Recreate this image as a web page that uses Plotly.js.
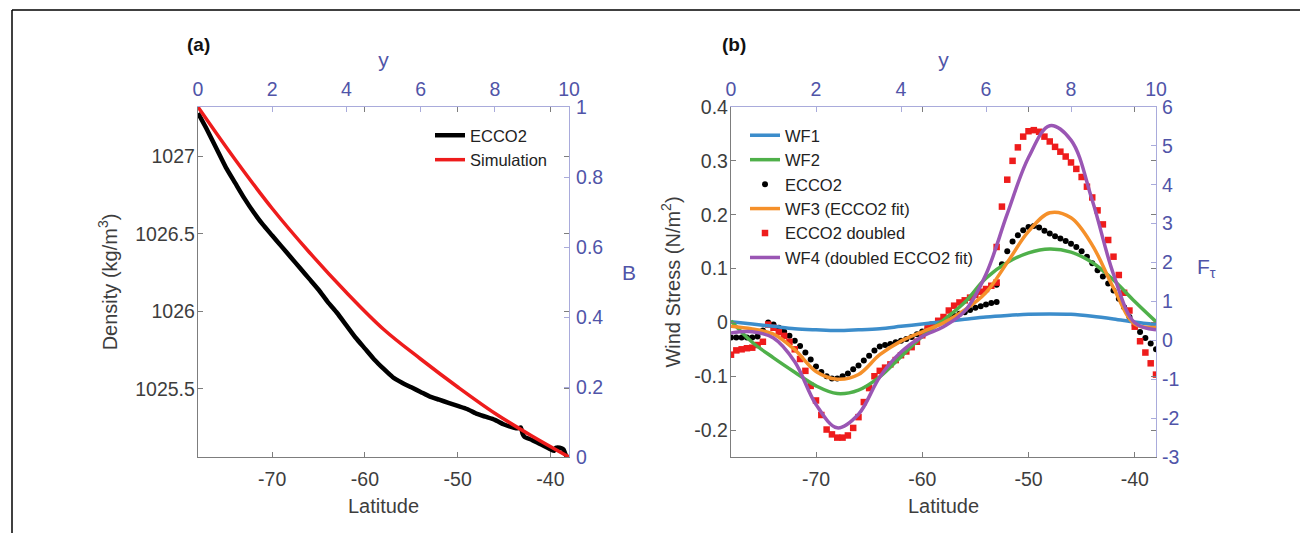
<!DOCTYPE html>
<html><head><meta charset="utf-8">
<script src="https://cdn.plot.ly/plotly-3.0.1.min.js"></script>
<style>html,body{margin:0;padding:0;background:#fff;} #chart{width:1300px;height:533px;}</style>
</head><body><div id="chart"></div>
<script>
// ---------- Panel (a) data ----------
const densLat = [-78,-77,-76,-75,-74,-73,-72,-71,-70,-69,-68,-67,-66,-65,-64,-63,-62,-61,-60,-59,-58,-57,-56,-55,-54,-53,-52,-51,-50,-49,-48,-47,-46,-45,-44,-43.5,-43.2,-43,-42.8,-42,-41,-40,-39.6,-39.4,-39,-38.6,-38.4,-38.2];
const densECCO2 = [1027.28,1027.17,1027.05,1026.93,1026.83,1026.73,1026.64,1026.56,1026.49,1026.42,1026.35,1026.28,1026.21,1026.14,1026.06,1025.99,1025.91,1025.83,1025.76,1025.69,1025.63,1025.575,1025.54,1025.51,1025.48,1025.45,1025.43,1025.41,1025.39,1025.37,1025.34,1025.32,1025.30,1025.27,1025.25,1025.245,1025.25,1025.21,1025.19,1025.17,1025.14,1025.11,1025.10,1025.12,1025.12,1025.11,1025.08,1025.06];
const simY = [0,1,2,3,4,5,6,7,8,9,10];
const simB = [1.0,0.85,0.71,0.585,0.47,0.365,0.28,0.20,0.125,0.06,0.0];

// ---------- Panel (b) data ----------
const wfY = [0,0.5,1,1.5,2,2.5,3,3.5,4,4.5,5,5.5,6,6.5,7,7.5,8,8.5,9,9.5,10];
const wf1 = [0.48,0.42,0.36,0.30,0.27,0.25,0.27,0.30,0.36,0.42,0.48,0.54,0.60,0.64,0.67,0.68,0.67,0.62,0.55,0.47,0.40];
const wf2 = [0.50,-0.05,-0.45,-0.82,-1.17,-1.37,-1.28,-0.94,-0.42,0.10,0.52,0.98,1.60,2.00,2.25,2.35,2.27,2.00,1.55,1.00,0.48];
const wf3 = [0.36,0.29,0.16,-0.24,-0.80,-1.00,-0.88,-0.37,-0.02,0.22,0.45,0.78,1.23,2.00,2.80,3.28,3.15,2.45,1.35,0.42,0.33];
const wf4 = [0.19,0.22,0.06,-0.55,-1.65,-2.25,-1.90,-0.94,-0.30,0.10,0.35,0.75,1.70,3.25,4.70,5.52,5.15,3.60,1.70,0.45,0.27];

const eccoLat = [-78,-77.5,-77,-76.5,-76,-75.5,-75,-74.5,-74,-73.5,-73,-72.5,-72,-71.5,-71,-70.5,-70,-69.5,-69,-68.5,-68,-67.5,-67,-66.5,-66,-65.5,-65,-64.5,-64,-63.5,-63,-62.5,-62,-61.5,-61,-60.5,-60,-59.5,-59,-58.5,-58,-57.5,-57,-56.5,-56,-55.5,-55,-54.5,-54,-53.5,-53,
  -53,-52.5,-52,-51.5,-51,-50.5,-50,-49.5,-49,-48.5,-48,-47.5,-47,-46.5,-46,-45.5,-45,-44.5,-44,-43.5,-43,-42.5,-42,-41.5,-41,-40.5,-40,-39.5,-39,-38.5,-38];
const eccoTau = [-0.028,-0.028,-0.028,-0.028,-0.028,-0.026,-0.015,0.000,-0.004,-0.010,-0.017,-0.025,-0.034,-0.044,-0.056,-0.069,-0.082,-0.092,-0.100,-0.104,-0.104,-0.100,-0.095,-0.087,-0.080,-0.071,-0.062,-0.052,-0.045,-0.042,-0.040,-0.037,-0.034,-0.031,-0.027,-0.022,-0.017,-0.012,-0.007,-0.002,0.002,0.007,0.012,0.016,0.019,0.023,0.027,0.030,0.033,0.036,0.038,
  0.070,0.108,0.132,0.150,0.162,0.171,0.177,0.179,0.176,0.170,0.165,0.160,0.156,0.151,0.146,0.140,0.132,0.122,0.110,0.097,0.085,0.072,0.059,0.044,0.028,0.010,-0.006,-0.018,-0.029,-0.039,-0.050];
const eccoDblTau = [-0.060,-0.052,-0.050,-0.048,-0.047,-0.042,-0.036,-0.004,-0.010,-0.018,-0.025,-0.036,-0.050,-0.068,-0.090,-0.118,-0.145,-0.172,-0.199,-0.208,-0.214,-0.214,-0.210,-0.196,-0.176,-0.148,-0.122,-0.100,-0.090,-0.084,-0.078,-0.070,-0.061,-0.054,-0.046,-0.036,-0.024,-0.011,-0.004,0.003,0.010,0.022,0.031,0.037,0.041,0.046,0.051,0.057,0.062,0.068,0.074,
  0.140,0.215,0.265,0.300,0.325,0.345,0.355,0.357,0.354,0.345,0.336,0.326,0.317,0.308,0.297,0.285,0.270,0.252,0.232,0.208,0.182,0.153,0.122,0.088,0.055,0.022,-0.008,-0.035,-0.056,-0.076,-0.097];

// ---------- tick labels ----------
const latTicks = [-70,-60,-50,-40];
const latTickText = ['-70','-60','-50','-40'];
const densTicks = [1025.5,1026,1026.5,1027];
const densTickText = ['1025.5','1026','1026.5','1027'];
const tauTicks = [-0.2,-0.1,0,0.1,0.2,0.3,0.4];
const tauTickText = ['-0.2','-0.1','0','0.1','0.2','0.3','0.4'];
const fTicks = [-3,-2,-1,0,1,2,3,4,5,6];
const fTickText = ['-3','-2','-1','0','1','2','3','4','5','6'];

const W = 1300, H = 533;
const FONT = 'Liberation Sans, Arial, Helvetica, sans-serif';
const GRAY_LINE = '#7d7d7d', GRAY_TXT = '#3d3d3d';
const BLUE_LINE = '#a9abdb', BLUE_TXT = '#5054a8';
const domA = [198/W, 569/W], domB = [731/W, 1156/W];
const domY = [1-457/H, 1-107/H];

function grayAxis(extra){
  return Object.assign({showline:true, linecolor:GRAY_LINE, linewidth:1.2, ticks:'inside', ticklen:5, tickcolor:GRAY_LINE,
    tickfont:{family:FONT,size:19.5,color:GRAY_TXT}, showgrid:false, zeroline:false, mirror:'ticks', fixedrange:true}, extra);
}
function blueAxis(extra){
  return Object.assign({showline:true, linecolor:BLUE_LINE, linewidth:1.2, ticks:'inside', ticklen:5, tickcolor:BLUE_LINE,
    tickfont:{family:FONT,size:19.5,color:BLUE_TXT}, showgrid:false, zeroline:false, fixedrange:true}, extra);
}

const traces = [
  {x:densLat, y:densECCO2, xaxis:'x', yaxis:'y', mode:'lines', name:'ECCO2', line:{color:'#000000', width:4.5, shape:'spline', smoothing:0.5}, legend:'legend'},
  {x:simY, y:simB, xaxis:'x2', yaxis:'y2', mode:'lines', name:'Simulation', line:{color:'#ee1c1c', width:3.5, shape:'spline'}, legend:'legend'},
  {x:wfY, y:wf1, xaxis:'x4', yaxis:'y4', mode:'lines', name:'WF1', line:{color:'#3c8dcb', width:3.5, shape:'spline'}, legend:'legend2'},
  {x:wfY, y:wf2, xaxis:'x4', yaxis:'y4', mode:'lines', name:'WF2', line:{color:'#4fb04a', width:3.5, shape:'spline'}, legend:'legend2'},
  {x:eccoLat, y:eccoTau, xaxis:'x3', yaxis:'y3', mode:'markers', name:'ECCO2', marker:{color:'#000000', size:6, symbol:'circle'}, legend:'legend2'},
  {x:wfY, y:wf3, xaxis:'x4', yaxis:'y4', mode:'lines', name:'WF3 (ECCO2 fit)', line:{color:'#f5902a', width:3.5, shape:'spline'}, legend:'legend2'},
  {x:eccoLat, y:eccoDblTau, xaxis:'x3', yaxis:'y3', mode:'markers', name:'ECCO2 doubled', marker:{color:'#ee1c1c', size:6.5, symbol:'square'}, legend:'legend2'},
  {x:wfY, y:wf4, xaxis:'x4', yaxis:'y4', mode:'lines', name:'WF4 (doubled ECCO2 fit)', line:{color:'#9a56b4', width:3.5, shape:'spline'}, legend:'legend2'}
];

const layout = {
  width:W, height:H, margin:{l:0,r:0,t:0,b:0}, paper_bgcolor:'#ffffff', plot_bgcolor:'rgba(0,0,0,0)',
  font:{family:FONT, color:GRAY_TXT},
  xaxis: grayAxis({domain:domA, anchor:'y', range:[-78,-38], tickvals:latTicks, ticktext:latTickText, ticklabelstandoff:4,
    title:{text:'Latitude', font:{family:FONT,size:20,color:GRAY_TXT}, standoff:10}}),
  yaxis: grayAxis({domain:domY, anchor:'x', range:[1025.06,1027.32], tickvals:densTicks, ticktext:densTickText, ticklabelstandoff:-2,
    title:{text:'Density (kg/m<sup>3</sup>)', font:{family:FONT,size:20,color:GRAY_TXT}, standoff:12}}),
  xaxis2: blueAxis({domain:domA, anchor:'y2', overlaying:'x', side:'top', range:[0,10], dtick:2, tick0:0, ticklabelstandoff:2,
    title:{text:'y', font:{family:FONT,size:21,color:BLUE_TXT}, standoff:4}}),
  yaxis2: blueAxis({domain:domY, anchor:'x2', overlaying:'y', side:'right', range:[0,1], dtick:0.2, tick0:0, ticklabelstandoff:2}),
  xaxis3: grayAxis({domain:domB, anchor:'y3', range:[-78,-38], tickvals:latTicks, ticktext:latTickText, ticklabelstandoff:4,
    title:{text:'Latitude', font:{family:FONT,size:20,color:GRAY_TXT}, standoff:10}}),
  yaxis3: grayAxis({domain:domY, anchor:'x3', range:[-0.25,0.4], tickvals:tauTicks, ticktext:tauTickText, ticklabelstandoff:-2,
    title:{text:'Wind Stress (N/m<sup>2</sup>)', font:{family:FONT,size:20,color:GRAY_TXT}, standoff:8}}),
  xaxis4: blueAxis({domain:domB, anchor:'y4', overlaying:'x3', side:'top', range:[0,10], dtick:2, tick0:0, ticklabelstandoff:2,
    title:{text:'y', font:{family:FONT,size:21,color:BLUE_TXT}, standoff:4}}),
  yaxis4: blueAxis({domain:domY, anchor:'x4', overlaying:'y3', side:'right', range:[-3,6], tickvals:fTicks, ticktext:fTickText, ticklabelstandoff:1}),
  showlegend:true,
  legend:{x:430/W, y:1-118/H, xanchor:'left', yanchor:'top', bgcolor:'rgba(0,0,0,0)', borderwidth:0,
    font:{family:FONT,size:16.5,color:'#222222'}, tracegroupgap:0},
  legend2:{x:745/W, y:1-118/H, xanchor:'left', yanchor:'top', bgcolor:'rgba(0,0,0,0)', borderwidth:0,
    font:{family:FONT,size:16.5,color:'#222222'}, tracegroupgap:0},
  annotations:[
    {text:'<b>(a)</b>', xref:'paper', yref:'paper', x:198/W, y:1-45/H, xanchor:'center', yanchor:'middle', showarrow:false, font:{family:FONT,size:19,color:'#111111'}},
    {text:'<b>(b)</b>', xref:'paper', yref:'paper', x:734/W, y:1-45/H, xanchor:'center', yanchor:'middle', showarrow:false, font:{family:FONT,size:19,color:'#111111'}},
    {text:'B', xref:'paper', yref:'paper', x:629/W, y:1-272/H, xanchor:'center', yanchor:'middle', showarrow:false, font:{family:FONT,size:21,color:BLUE_TXT}},
    {text:'F<sub>τ</sub>', xref:'paper', yref:'paper', x:1206/W, y:1-268/H, xanchor:'center', yanchor:'middle', showarrow:false, font:{family:FONT,size:21,color:BLUE_TXT}}
  ],
  shapes:[
    {type:'line', xref:'paper', yref:'paper', x0:12/W, x1:1, y0:1-10/H, y1:1-10/H, line:{color:'#000000', width:1.5}},
    {type:'line', xref:'paper', yref:'paper', x0:12/W, x1:12/W, y0:0, y1:1-10/H, line:{color:'#000000', width:1.5}}
  ]
};

Plotly.newPlot('chart', traces, layout, {displayModeBar:false, staticPlot:true});
</script>
</body></html>
